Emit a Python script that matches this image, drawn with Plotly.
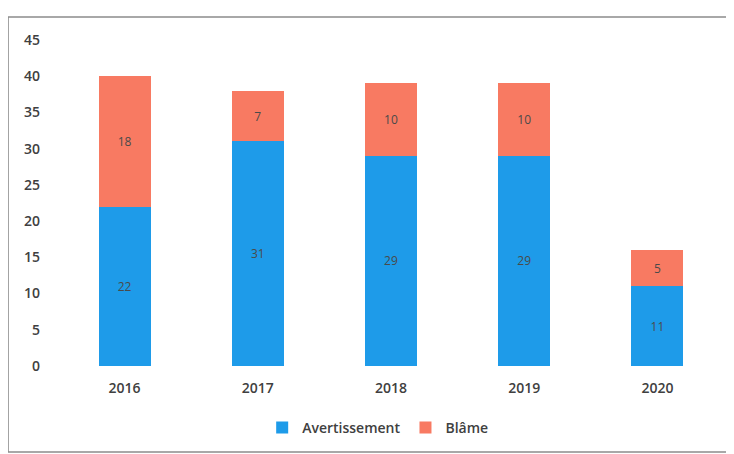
import plotly.graph_objects as go

years = ["2016", "2017", "2018", "2019", "2020"]
avertissement = [22, 31, 29, 29, 11]
blame = [18, 7, 10, 10, 5]

blue = "#1E9BE9"
orange = "#F87A62"

fig = go.Figure()
fig.add_trace(go.Bar(
    x=years, y=avertissement, name="Avertissement",
    marker=dict(color=blue, line=dict(width=0)),
    text=[str(v) for v in avertissement], textposition="inside",
    insidetextanchor="middle", textangle=0,
    textfont=dict(size=12, color="#4a4a4a", family="Open Sans"),
))
fig.add_trace(go.Bar(
    x=years, y=blame, name="Blâme",
    marker=dict(color=orange, line=dict(width=0)),
    text=[str(v) for v in blame], textposition="inside",
    insidetextanchor="middle", textangle=0,
    textfont=dict(size=12, color="#4a4a4a", family="Open Sans"),
))

fig.update_layout(
    barmode="stack",
    bargap=0.61,
    width=726, height=446,
    margin=dict(l=50, r=10, t=32, b=88),
    paper_bgcolor="white", plot_bgcolor="rgba(0,0,0,0)",
    font=dict(family="Open Sans", color="#404040"),
    uniformtext=dict(mode="show", minsize=12),
    xaxis=dict(showgrid=False, showline=False, ticks="", automargin=False,
               ticklabelstandoff=12,
               tickfont=dict(size=14, color="#404040", weight=600)),
    yaxis=dict(range=[0, 45], dtick=5, showgrid=False, showline=False,
               zeroline=False, ticks="", ticklabelstandoff=17, automargin=False,
               tickfont=dict(size=14, color="#404040", weight=600)),
    legend=dict(orientation="h", x=0.48, xanchor="center", y=-0.19,
                yanchor="middle", font=dict(size=14, color="#404040", weight=600),
                itemwidth=30, traceorder="normal"),
    shapes=[dict(type="rect", xref="paper", yref="paper",
                 x0=-0.075, x1=1.009, y0=-0.2638, y1=1.0706,
                 line=dict(color="#8c8c8c", width=1.5), fillcolor="rgba(0,0,0,0)",
                 layer="above")],
)

fig.write_html("out.html")
